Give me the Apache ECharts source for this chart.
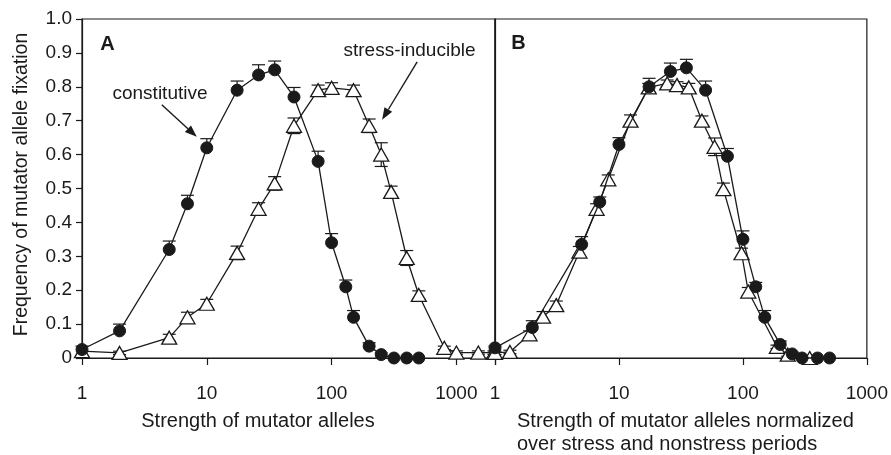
<!DOCTYPE html>
<html>
<head>
<meta charset="utf-8">
<script src="https://cdn.jsdelivr.net/npm/echarts@6/dist/echarts.min.js"></script>
<style>
html,body{margin:0;padding:0;background:#fff;}
#chart{width:891px;height:455px;}
</style>
</head>
<body>
<div id="chart"></div>
<script>
// ---------- DATA ----------
const yTicks = [0, 0.1, 0.2, 0.3, 0.4, 0.5, 0.6, 0.7, 0.8, 0.9, 1.0];
const xTickLabels = ['1', '10', '100', '1000'];

// Panel A
const constA_x   = [1, 2, 5, 7, 10, 17.5, 26, 35, 50, 78, 100, 130, 150, 200, 250, 316, 400, 500];
const constA_y   = [0.025, 0.08, 0.32, 0.455, 0.62, 0.79, 0.835, 0.85, 0.77, 0.58, 0.34, 0.21, 0.12, 0.035, 0.01, 0, 0, 0];
const constA_err = [0.01, 0.02, 0.025, 0.025, 0.027, 0.027, 0.03, 0.026, 0.028, 0.03, 0.027, 0.02, 0.02, 0.01, 0.005, 0, 0, 0];

const stressA_x   = [1, 2, 5, 7, 10, 17.5, 26, 35, 50, 78, 100, 150, 200, 250, 300, 400, 500, 800, 1000, 1500, 2000];
const stressA_y   = [0.02, 0.015, 0.06, 0.12, 0.16, 0.31, 0.44, 0.515, 0.685, 0.79, 0.797, 0.79, 0.685, 0.6, 0.49, 0.295, 0.186, 0.03, 0.016, 0.016, 0.016];
const stressA_err = [0, 0.005, 0.01, 0.015, 0.013, 0.02, 0.018, 0.02, 0.023, 0.015, 0.015, 0.015, 0.02, 0.035, 0.017, 0.022, 0.012, 0.005, 0.005, 0.005, 0.005];

// Panel B
const constB_x   = [1, 2, 5, 7, 10, 17.5, 26, 35, 50, 75, 100, 127, 150, 200, 250, 300, 400, 500];
const constB_y   = [0.03, 0.09, 0.335, 0.46, 0.63, 0.80, 0.845, 0.856, 0.79, 0.595, 0.35, 0.21, 0.12, 0.04, 0.012, 0, 0, 0];
const constB_err = [0.005, 0.02, 0.023, 0.015, 0.02, 0.025, 0.025, 0.025, 0.027, 0.023, 0.025, 0.013, 0.02, 0.01, 0.005, 0, 0, 0];

const stressB_x   = [1, 1.32, 1.9, 2.44, 3.12, 4.8, 6.6, 8.2, 12.4, 17.4, 24.5, 29.4, 36.6, 46.7, 59.1, 69.6, 97.5, 110.5, 188, 230, 346];
const stressB_y   = [0.015, 0.018, 0.07, 0.122, 0.156, 0.314, 0.44, 0.527, 0.70, 0.798, 0.81, 0.805, 0.798, 0.70, 0.623, 0.498, 0.309, 0.196, 0.033, 0.01, 0];
const stressB_err = [0.005, 0.005, 0.01, 0.015, 0.012, 0.015, 0.015, 0.013, 0.017, 0.012, 0.01, 0.01, 0.012, 0.014, 0.026, 0.018, 0.015, 0.012, 0.005, 0.005, 0];

// ---------- BUILD ----------
const FONT = "'Liberation Sans', Arial, sans-serif";
const INK = '#1a1a1a';

function pairs(xs, ys) { return xs.map((x, i) => [x, ys[i]]); }
function triples(xs, ys, es) { return xs.map((x, i) => [x, ys[i], es[i]]); }

function errRender(lower) {
  return function (params, api) {
    const x = api.value(0), y = api.value(1), e = api.value(2);
    if (!e) return;
    const pt = api.coord([x, y + e]);
    const pb = api.coord([x, lower ? y - e : y]);
    const hw = 6.5;
    const st = { stroke: INK, lineWidth: 1.2 };
    const children = [
      { type: 'line', shape: { x1: pt[0], y1: pt[1], x2: pb[0], y2: pb[1] }, style: st },
      { type: 'line', shape: { x1: pt[0] - hw, y1: pt[1], x2: pt[0] + hw, y2: pt[1] }, style: st }
    ];
    if (lower) children.push({ type: 'line', shape: { x1: pb[0] - hw, y1: pb[1], x2: pb[0] + hw, y2: pb[1] }, style: st });
    return { type: 'group', children: children };
  };
}

function isPow10(v) {
  const l = Math.log10(v);
  return Math.abs(l - Math.round(l)) < 1e-6;
}

const xAxisCommon = {
  type: 'log', logBase: 10,
  axisLine: { show: true, lineStyle: { color: INK, width: 1.2 } },
  axisTick: { show: true, inside: false, length: 7, lineStyle: { color: INK, width: 1.2 } },
  axisLabel: {
    fontFamily: FONT, fontSize: 19, color: INK, margin: 26,
    formatter: v => isPow10(v) ? String(Math.round(v)) : ''
  },
  splitLine: { show: false },
  minorTick: { show: false }
};

const lineSeries = (name, data, xi, circle) => ({
  name: name, type: 'line', xAxisIndex: xi, yAxisIndex: xi, data: data,
  symbol: circle ? 'circle' : 'triangle',
  symbolSize: circle ? 12 : [15, 13],
  showAllSymbol: true,
  clip: false,
  lineStyle: { color: INK, width: 1.3 },
  itemStyle: circle ? { color: INK, borderColor: INK, borderWidth: 1 } : { color: '#fff', borderColor: INK, borderWidth: 1.3 },
  z: circle ? 4 : 3,
  animation: false
});

const errSeries = (data, xi, lower) => ({
  type: 'custom', xAxisIndex: xi, yAxisIndex: xi, data: data,
  renderItem: errRender(lower), z: 1, silent: true, animation: false,
  encode: { x: 0, y: 1 }
});

const chart = echarts.init(document.getElementById('chart'), null, { renderer: 'canvas' });

const option = {
  animation: false,
  backgroundColor: '#fff',
  grid: [
    { left: 82, top: 19, width: 413, height: 339, show: true, borderColor: INK, borderWidth: 1.2, backgroundColor: 'transparent' },
    { left: 495, top: 19, width: 375, height: 339, show: true, borderColor: INK, borderWidth: 1.2, backgroundColor: 'transparent' }
  ],
  xAxis: [
    Object.assign({}, xAxisCommon, {
      gridIndex: 0, min: 1, max: 2040,
      name: 'Strength of mutator alleles',
      nameLocation: 'middle', nameGap: 53,
      nameTextStyle: { fontFamily: FONT, fontSize: 20, color: INK, padding: [0, 61, 0, 0] }
    }),
    Object.assign({}, xAxisCommon, { gridIndex: 1, min: 1, max: 1000 })
  ],
  yAxis: [
    {
      type: 'value', gridIndex: 0, min: 0, max: 1, interval: 0.1,
      name: 'Frequency of mutator allele fixation',
      nameLocation: 'middle', nameGap: 50, nameRotate: 90,
      nameTextStyle: { fontFamily: FONT, fontSize: 19.5, color: INK, padding: [0, 0, 0, 8] },
      axisLine: { show: true, lineStyle: { color: INK, width: 1.2 } },
      axisTick: { show: true, inside: false, length: 6, lineStyle: { color: INK, width: 1.2 } },
      axisLabel: {
        fontFamily: FONT, fontSize: 19, color: INK, margin: 10,
        formatter: v => v === 0 ? '0' : v.toFixed(1)
      },
      splitLine: { show: false }
    },
    {
      type: 'value', gridIndex: 1, min: 0, max: 1, interval: 0.1,
      axisLine: { show: true, lineStyle: { color: INK, width: 1.2 } },
      axisTick: { show: false }, axisLabel: { show: false }, splitLine: { show: false }
    }
  ],
  series: [
    errSeries(triples(constA_x, constA_y, constA_err), 0, false),
    errSeries(triples(stressA_x, stressA_y, stressA_err), 0, true),
    errSeries(triples(constB_x, constB_y, constB_err), 1, false),
    errSeries(triples(stressB_x, stressB_y, stressB_err), 1, true),
    lineSeries('constitutive', pairs(constA_x, constA_y), 0, true),
    lineSeries('stress-inducible', pairs(stressA_x, stressA_y), 0, false),
    lineSeries('constitutive (normalized)', pairs(constB_x, constB_y), 1, true),
    lineSeries('stress-inducible (normalized)', pairs(stressB_x, stressB_y), 1, false)
  ]
};
chart.setOption(option);

// ---------- ANNOTATIONS ----------
const pC = chart.convertToPixel({ gridIndex: 0 }, [10, 0.62]);
const pS = chart.convertToPixel({ gridIndex: 0 }, [200, 0.685]);
function arrow(tail, head) {
  const dx = head[0] - tail[0], dy = head[1] - tail[1];
  const L = Math.sqrt(dx * dx + dy * dy), ux = dx / L, uy = dy / L;
  const hl = 12, hw = 4.5;
  const bx = head[0] - ux * hl, by = head[1] - uy * hl;
  return [
    { type: 'line', shape: { x1: tail[0], y1: tail[1], x2: bx, y2: by }, style: { stroke: INK, lineWidth: 1.4 }, z: 10 },
    { type: 'polygon', shape: { points: [head, [bx - uy * hw, by + ux * hw], [bx + uy * hw, by - ux * hw]] }, style: { fill: INK }, z: 10 }
  ];
}
const headC = [pC[0] - 10, pC[1] - 11];
const headS = [pS[0] + 13, pS[1] - 6];
chart.setOption({
  graphic: [
    { type: 'text', x: 107.5, y: 44, style: { text: 'A', font: "bold 20px " + FONT, fill: INK, textAlign: 'center', textVerticalAlign: 'middle' }, z: 10 },
    { type: 'text', x: 518.5, y: 43, style: { text: 'B', font: "bold 20px " + FONT, fill: INK, textAlign: 'center', textVerticalAlign: 'middle' }, z: 10 },
    { type: 'text', x: 160, y: 94, style: { text: 'constitutive', font: "19px " + FONT, fill: INK, textAlign: 'center', textVerticalAlign: 'middle' }, z: 10 },
    { type: 'text', x: 409.5, y: 51, style: { text: 'stress-inducible', font: "19px " + FONT, fill: INK, textAlign: 'center', textVerticalAlign: 'middle' }, z: 10 },
    { type: 'text', x: 517, y: 410, style: { text: 'Strength of mutator alleles normalized\nover stress and nonstress periods', font: "20px " + FONT, fill: INK, lineHeight: 23, textAlign: 'left', textVerticalAlign: 'top' }, z: 10 }
  ].concat(arrow([headC[0] - 35, headC[1] - 32], headC), arrow([headS[0] + 35, headS[1] - 58], headS))
});
</script>
</body>
</html>
